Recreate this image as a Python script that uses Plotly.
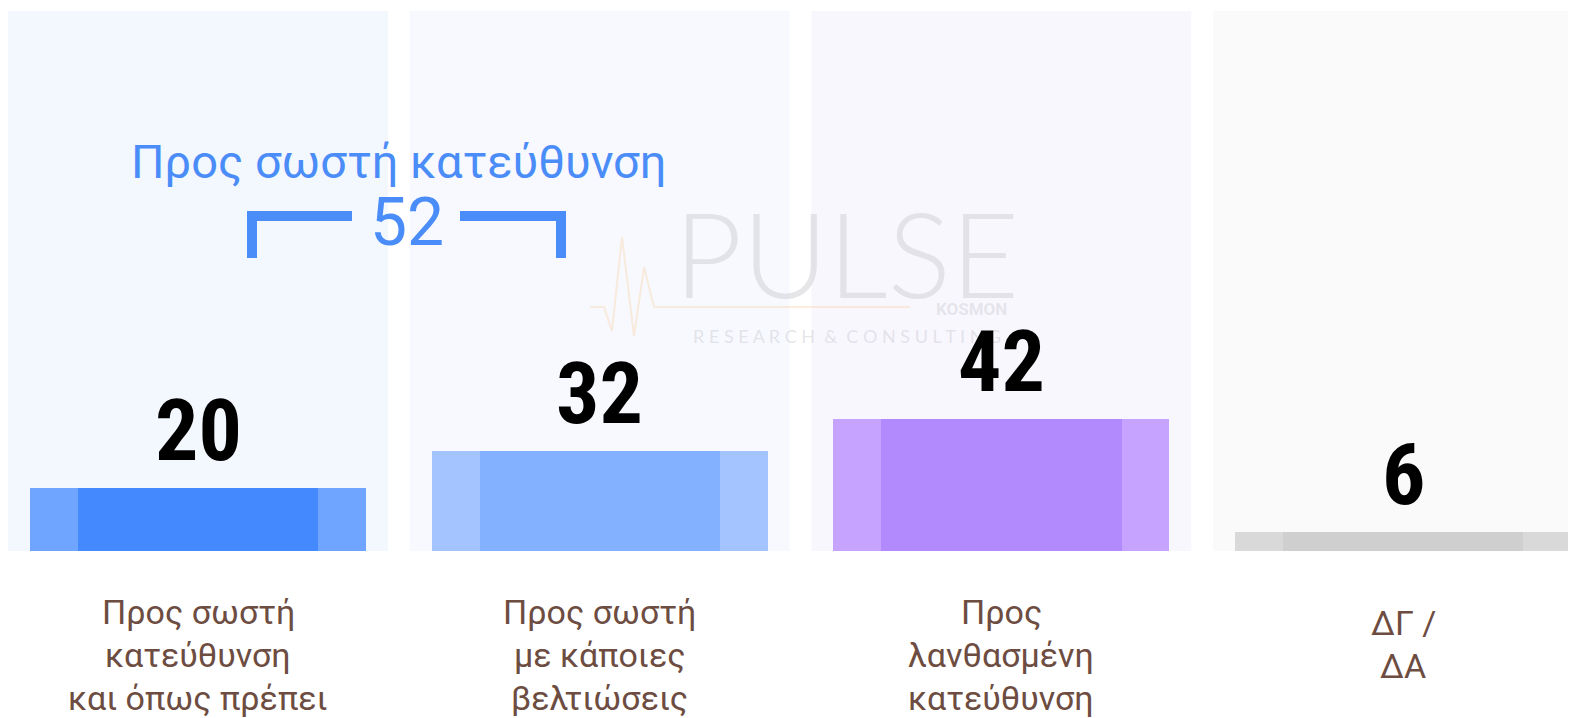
import plotly.graph_objects as go

# ---------------- data ----------------
categories = [
    "Προς σωστή<br>κατεύθυνση<br>και όπως πρέπει",
    "Προς σωστή<br>με κάποιες<br>βελτιώσεις",
    "Προς<br>λανθασμένη<br>κατεύθυνση",
    "ΔΓ /<br>ΔΑ",
]
values = [20, 32, 42, 6]
group_label = "Προς σωστή κατεύθυνση"
group_total = 52
group_members = [0, 1]

panel_colors = ["#f3f7fe", "#f7f9fe", "#f9f7fe", "#fafafa"]
edge_colors = ["#70a5ff", "#a3c4ff", "#c5a3fe", "#d9d9d9"]
core_colors = ["#4589ff", "#83b0ff", "#b38afe", "#cfcfcf"]

# ---------------- style ----------------
W, H = 1576, 718
OFF = 8            # page body margin offset of the figure
BLUE = "#4a8cf8"
BROWN = "#6d4c41"
YMAX = 172
PLOT_BOTTOM = 551  # screen px of plot bottom
PLOT_H = 540
PERIOD = 401.7     # px per category
C0 = 198           # screen px of first category centre
xs = list(range(len(values)))


def px(sx):  # screen x -> paper x
    return (sx - OFF) / W


def py(sy):  # screen y -> paper y
    return (PLOT_BOTTOM - sy) / PLOT_H


def dx(sx):  # screen x -> data x
    return (sx - C0) / PERIOD


fig = go.Figure()
fig.add_trace(go.Bar(x=xs, y=values, width=0.836, marker=dict(color=edge_colors, line=dict(width=0)),
                     hoverinfo="skip", showlegend=False))
fig.add_trace(go.Bar(x=xs, y=values, width=0.598, marker=dict(color=core_colors, line=dict(width=0)),
                     hoverinfo="skip", showlegend=False))

shapes = []
for i, c in zip(xs, panel_colors):
    shapes.append(dict(type="rect", xref="x", yref="paper", x0=i - 0.473, x1=i + 0.473, y0=0, y1=1,
                       fillcolor=c, line=dict(width=0), layer="below"))

# bracket over the grouped categories
gl, gr = min(group_members), max(group_members)
xl, xr = dx(252), dx(561)
xil, xir = dx(352), dx(460)
yt, yb = py(216), py(258)
shapes.append(dict(type="path", xref="x", yref="paper",
                   path=f"M {xl},{yb} L {xl},{yt} L {xil},{yt}",
                   line=dict(color=BLUE, width=10)))
shapes.append(dict(type="path", xref="x", yref="paper",
                   path=f"M {xir},{yt} L {xr},{yt} L {xr},{yb}",
                   line=dict(color=BLUE, width=10)))

# faint pulse logo line (watermark decoration)
def P(a, b):
    return f"{px(a):.4f},{py(b):.4f}"
pulse = "M " + " L ".join(P(a, b) for a, b in [
    (590, 307), (604, 307), (612, 331), (622, 237), (634, 336), (644, 267), (654, 307), (910, 307)])
shapes.append(dict(type="path", xref="paper", yref="paper", path=pulse,
                   line=dict(color="rgba(248,214,180,0.45)", width=2), layer="above"))

annotations = []
WM = "rgba(205,205,212,0.5)"
annotations.append(dict(text="PULSE", xref="paper", yref="paper", x=px(846), y=py(252),
                        showarrow=False, font=dict(family="Lato", size=118, color=WM, weight=300)))
annotations.append(dict(text="R E S E A R C H  &  C O N S U L T I N G", xref="paper", yref="paper",
                        x=px(847), y=py(336), showarrow=False,
                        font=dict(family="Lato", size=18, color=WM)))
annotations.append(dict(text="<b>KOSMON</b>", xref="paper", yref="paper", x=px(971), y=py(309),
                        showarrow=False, font=dict(family="Roboto", size=17, color="rgba(205,205,212,0.45)")))

# group title and total
annotations.append(dict(text=group_label, x=(gl + gr) / 2, xref="x", yref="paper", y=py(161),
                        showarrow=False, yanchor="middle",
                        font=dict(family="Roboto", size=47, color=BLUE)))
annotations.append(dict(text=str(group_total), x=dx(407), xref="x", yref="paper", y=py(222),
                        showarrow=False, yanchor="middle",
                        font=dict(family="Roboto", size=66, color=BLUE)))

# value labels
for i, v in zip(xs, values):
    annotations.append(dict(text=f"<b>{v}</b>", x=i, y=v, xref="x", yref="y", yanchor="bottom",
                            yshift=5, showarrow=False,
                            font=dict(family="Roboto Condensed, Liberation Sans Narrow, DejaVu Sans Condensed",
                                      size=86, color="#000000")))

# category labels, one annotation per line
LINE_GAP = 43
for i, lab in zip(xs, categories):
    lines = lab.split("<br>")
    first = 612 + (11 if len(lines) < 3 else 0)
    for k, line in enumerate(lines):
        annotations.append(dict(text=line, x=i, y=py(first + k * LINE_GAP), xref="x", yref="paper",
                                yanchor="middle", showarrow=False,
                                font=dict(family="Roboto", size=34, color=BROWN)))

fig.update_layout(
    width=W, height=H,
    margin=dict(l=0, r=0, t=11 - OFF, b=H - (11 - OFF) - PLOT_H),
    paper_bgcolor="white", plot_bgcolor="white",
    barmode="overlay", bargap=0,
    xaxis=dict(range=[dx(OFF), dx(OFF + W)], visible=False, fixedrange=True),
    yaxis=dict(range=[0, YMAX], visible=False, fixedrange=True),
    shapes=shapes, annotations=annotations,
    showlegend=False,
)

fig.write_html("out.html", config={"displayModeBar": False})
